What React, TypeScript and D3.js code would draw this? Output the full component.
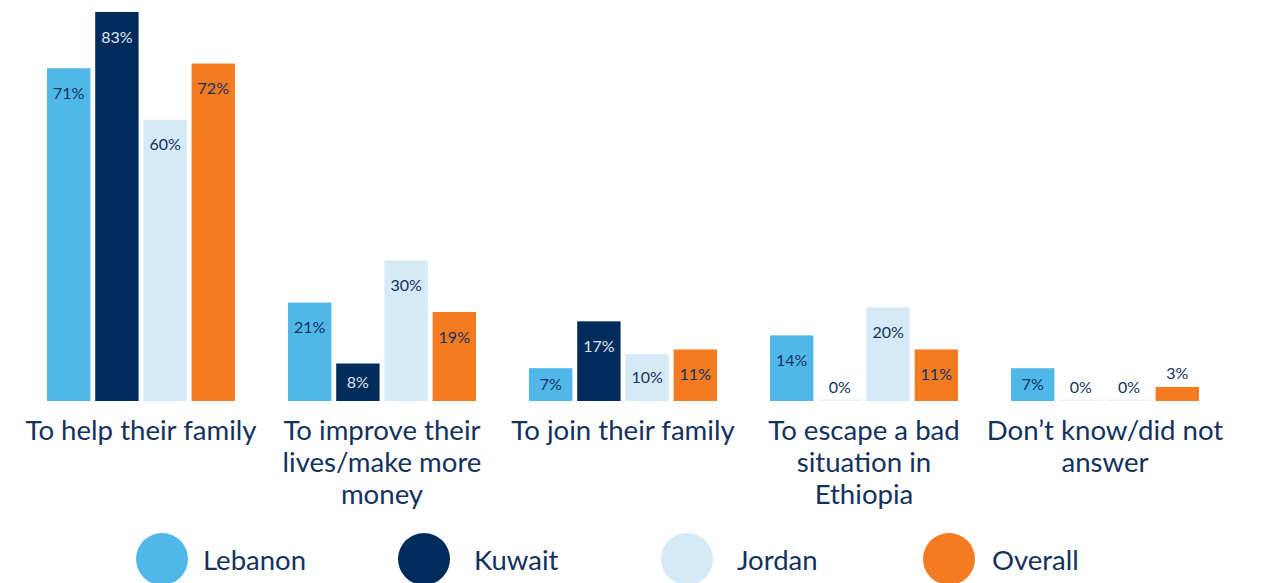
import React, { useEffect, useRef } from "react";
import * as d3 from "d3";

const categories = [
  ["To help their family"],
  ["To improve their", "lives/make more", "money"],
  ["To join their family"],
  ["To escape a bad", "situation in", "Ethiopia"],
  ["Don\u2019t know/did not", "answer"],
];
const seriesNames = ["Lebanon", "Kuwait", "Jordan", "Overall"];
const seriesColors = ["#4fb8e9", "#002c5c", "#d5e9f7", "#f47b22"];
const labelColors = ["#13325e", "#dfe6ef", "#13325e", "#13325e"];
const lebanon = [71, 21, 7, 14, 7];
const kuwait = [83, 8, 17, 0, 0];
const jordan = [60, 30, 10, 20, 0];
const overall = [72, 19, 11, 11, 3];
const seriesValues = [lebanon, kuwait, jordan, overall];

const W = 1261;
const H = 583;
const FONT = "Lato, 'Noto Sans', sans-serif";
const NAVY = "#13325e";

const Chart = () => {
  const ref = useRef<SVGSVGElement>(null);

  useEffect(() => {
    if (!ref.current) return;
    const svg = d3.select(ref.current);
    svg.selectAll("*").remove();

    const keys = categories.map((c) => c.join(" "));
    const x0 = d3.scaleBand().domain(keys).range([20.5, 1225.5]).paddingInner(0.22).paddingOuter(0.11);
    const x1 = d3.scaleBand().domain(seriesNames).range([0, x0.bandwidth()]).paddingInner(0.1);
    const y = d3.scaleLinear().domain([0, 83]).range([401, 12]);

    const rows = keys.flatMap((k, ci) =>
      seriesNames.map((s, si) => ({ k, ci, s, si, v: seriesValues[si][ci] }))
    );

    const g = svg.append("g");

    // bars
    g.selectAll("rect.bar")
      .data(rows)
      .join("rect")
      .attr("class", "bar")
      .attr("x", (d) => x0(d.k)! + x1(d.s)!)
      .attr("width", x1.bandwidth())
      .attr("y", (d) => (d.v === 0 ? y(0) - 1.5 : y(d.v)))
      .attr("height", (d) => (d.v === 0 ? 1.5 : y(0) - y(d.v)))
      .attr("fill", (d) => (d.v === 0 ? "#eef2f6" : seriesColors[d.si]));

    // value labels
    g.selectAll("text.val")
      .data(rows)
      .join("text")
      .attr("class", "val")
      .attr("x", (d) => x0(d.k)! + x1(d.s)! + x1.bandwidth() / 2)
      .attr("y", (d) => {
        const top = y(d.v);
        const h = y(0) - top;
        if (h < 25) return top - 14;
        return top + Math.min(25, h / 2);
      })
      .attr("dy", "0.35em")
      .attr("text-anchor", "middle")
      .attr("font-family", FONT)
      .attr("font-size", 16)
      .attr("fill", (d) => {
        const h = y(0) - y(d.v);
        return h < 25 ? NAVY : labelColors[d.si];
      })
      .text((d) => `${d.v}%`);

    // category labels
    const cat = g.selectAll("text.cat")
      .data(categories)
      .join("text")
      .attr("class", "cat")
      .attr("x", (_, i) => x0(keys[i])! + x0.bandwidth() / 2)
      .attr("y", 440)
      .attr("text-anchor", "middle")
      .attr("font-family", FONT)
      .attr("font-size", 27.6)
      .attr("fill", NAVY);
    cat.selectAll("tspan")
      .data((d) => d)
      .join("tspan")
      .attr("x", function () {
        return (this.parentNode as SVGTextElement).getAttribute("x");
      })
      .attr("dy", (_, i) => (i === 0 ? 0 : 32))
      .text((d) => d);

    // legend
    const legendX = [162, 424, 687, 949];
    const leg = g.selectAll("g.leg")
      .data(seriesNames)
      .join("g")
      .attr("class", "leg")
      .attr("transform", (_, i) => `translate(${legendX[i]},559)`);
    leg.append("circle").attr("r", 26).attr("fill", (_, i) => seriesColors[i]);
    leg.append("text")
      .attr("x", (_, i) => (i === 1 ? 50 : i === 2 ? 50 : i === 3 ? 43 : 41))
      .attr("y", 11)
      .attr("font-family", FONT)
      .attr("font-size", 27.5)
      .attr("fill", NAVY)
      .text((d) => d);
  }, []);

  return <svg ref={ref} width={W} height={H} style={{ position: "absolute", left: 0, top: 0 }} />;
};

export default function App() {
  return <Chart />;
}
